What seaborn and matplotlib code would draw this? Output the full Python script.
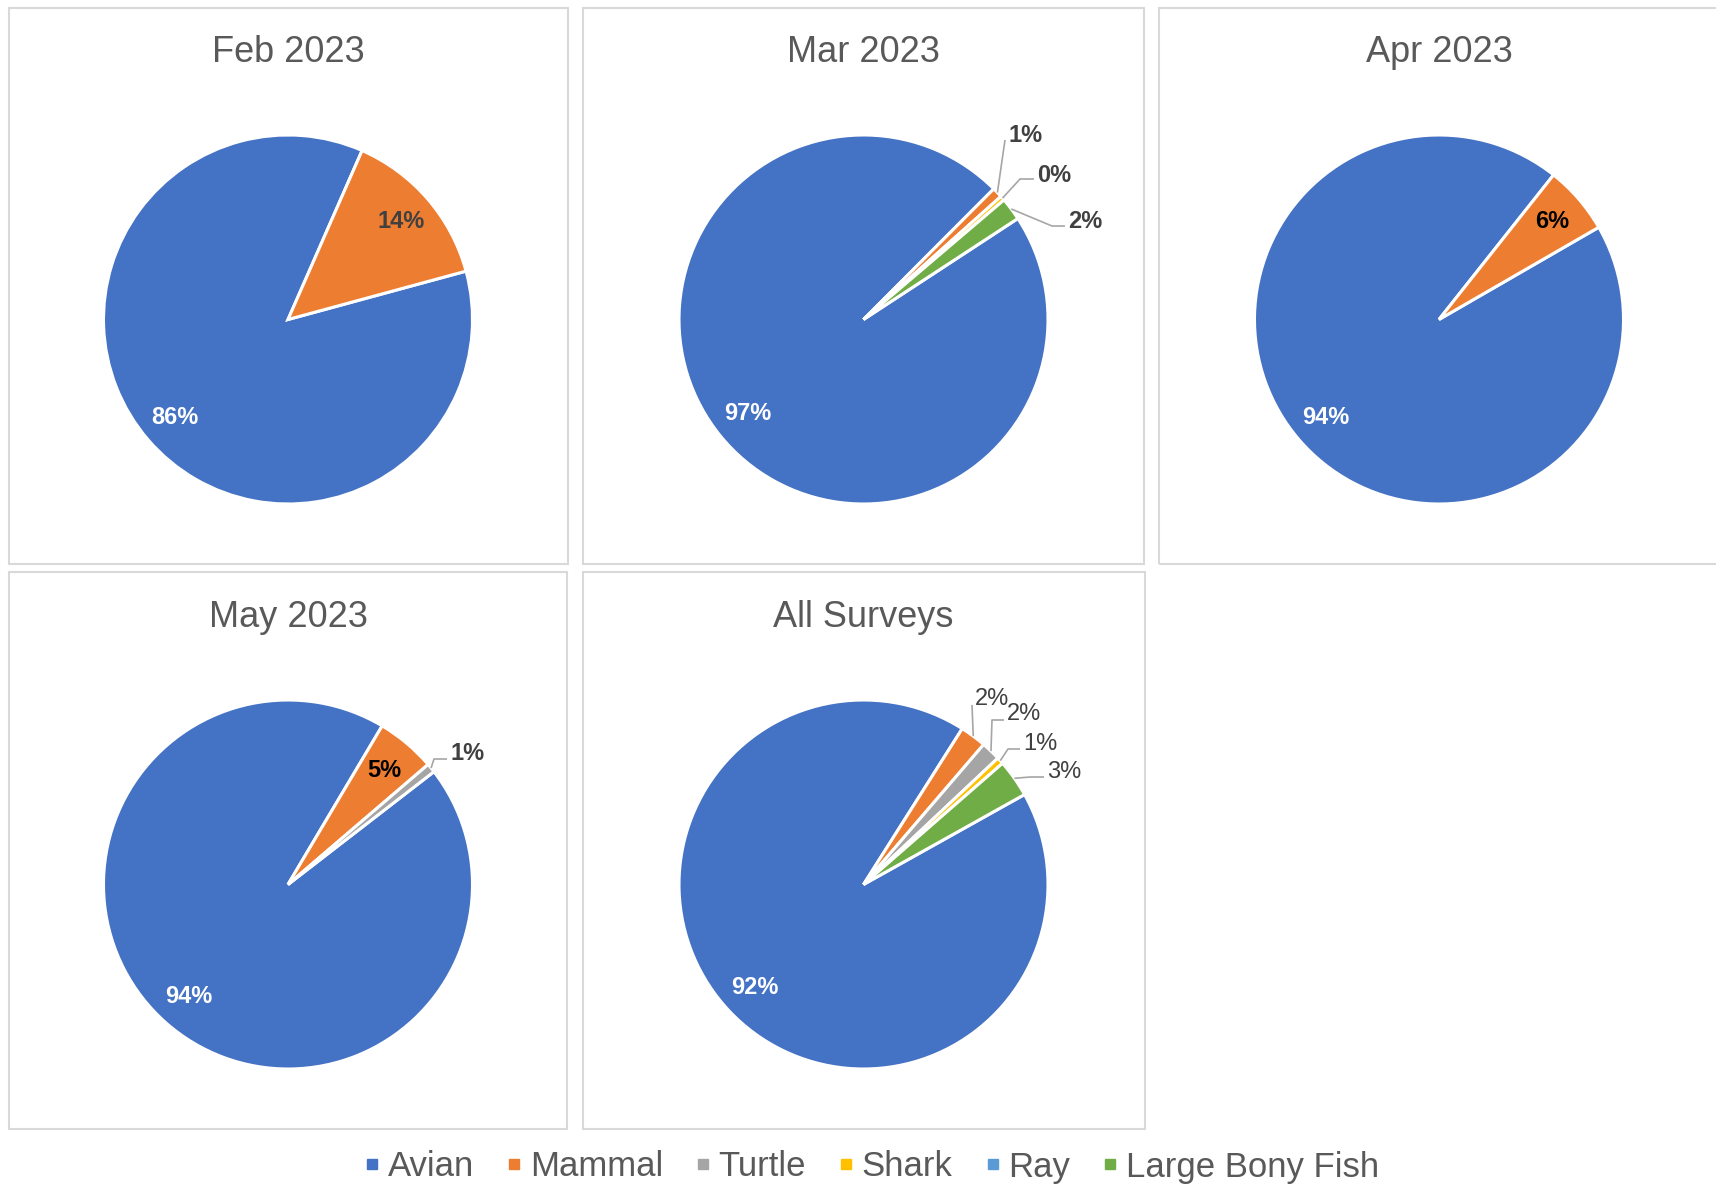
import numpy as np
import matplotlib
matplotlib.use("Agg")
import matplotlib.pyplot as plt
from matplotlib.patches import Rectangle
from matplotlib.lines import Line2D
import seaborn as sns

# categories and their Office-style colours
categories = ["Avian", "Mammal", "Turtle", "Shark", "Ray", "Large Bony Fish"]
colors = ["#4472C4", "#ED7D31", "#A5A5A5", "#FFC000", "#5B9BD5", "#70AD47"]

titles = ["Feb 2023", "Mar 2023", "Apr 2023", "May 2023", "All Surveys"]

# share of sightings (%), same order as categories
feb = [85.8, 14.2, 0, 0, 0, 0]
mar = [96.7, 0.9, 0, 0.4, 0, 2.0]
apr = [94.0, 6.0, 0, 0, 0, 0]
may = [94.0, 5.2, 0.8, 0, 0, 0]
all_surveys = [92.1, 2.3, 1.7, 0.6, 0, 3.3]
series = [feb, mar, apr, may, all_surveys]

# ---- layout (pixels, origin top-left) ----
W, H = 1716, 1186
R = 184.5
panels = [(9, 8, 568, 564), (583, 8, 1144, 564), (1159, 8, 1730, 564),
          (9, 572, 567, 1129), (583, 572, 1145, 1129)]
centers = [(288, 319.5), (863.5, 319.5), (1439, 319.5), (288, 884.5), (863.5, 884.5)]
title_base = [62, 62, 62, 627, 627]
start_cw = [74.8, 56.8, 60.0, 52.3, 60.8]   # where Avian starts, degrees clockwise from top

# slices labelled inside: {category index: colour}
inside = [{0: "white", 1: "#404040"}, {0: "white"}, {0: "white", 1: "black"},
          {0: "white", 1: "black"}, {0: "white"}]
# slices labelled outside: (category index, text left x, baseline y, elbow x, elbow y, end x)
outside = [
    [],
    [(1, 1008, 142, 1005, 140, 1005), (3, 1037, 182, 1020, 179, 1034),
     (5, 1068, 228, 1052, 226, 1065)],
    [],
    [(2, 450, 760, 434, 759, 447)],
    [(1, 975, 705, 972, 705, 972), (2, 1007, 720, 992, 720, 1004),
     (3, 1023, 750, 1008, 749, 1020), (5, 1047, 778, 1030, 777, 1044)],
]
outside_weight = ["bold", "bold", "bold", "bold", "normal"]

sns.set_theme(style="white")
plt.rcParams["font.family"] = ["Liberation Sans", "DejaVu Sans"]
palette = sns.color_palette(colors)

fig = plt.figure(figsize=(W / 100, H / 100), dpi=100)
ax = fig.add_axes([0, 0, 1, 1])

for k, vals in enumerate(series):
    l, t, r, b = panels[k]
    ax.add_patch(Rectangle((l, H - b), r - l, b - t, fill=False,
                           edgecolor="#D9D9D9", linewidth=1.5))
    cx, cy = centers[k]
    ax.text(cx, H - title_base[k], titles[k], ha="center", va="baseline",
            fontsize=26, color="#595959")

    idx = [i for i, v in enumerate(vals) if v > 0]
    wedges, _ = ax.pie([vals[i] for i in idx], colors=[palette[i] for i in idx],
                       center=(cx, H - cy), radius=R, startangle=90 - start_cw[k],
                       counterclock=False,
                       wedgeprops=dict(edgecolor="white", linewidth=2.2))
    mids = {}
    for i, w in zip(idx, wedges):
        mids[i] = np.deg2rad((w.theta1 + w.theta2) / 2)

    for i, col in inside[k].items():
        a = mids[i]
        ax.text(cx + 0.81 * R * np.cos(a), H - cy + 0.81 * R * np.sin(a),
                f"{round(vals[i]):.0f}%", ha="center", va="center",
                fontsize=17, fontweight="bold", color=col)

    for i, tx, ty, ex, ey, endx in outside[k]:
        a = mids[i]
        px, py = cx + R * np.cos(a), H - cy + R * np.sin(a)
        ax.plot([px, ex, endx], [py, H - ey, H - ey], color="#A6A6A6",
                linewidth=1.2, solid_capstyle="butt")
        ax.text(tx, H - ty, f"{round(vals[i]):.0f}%", ha="left", va="baseline",
                fontsize=17, fontweight=outside_weight[k], color="#404040")

ax.set_xlim(0, W)
ax.set_ylim(0, H)
ax.set_aspect("auto")
ax.axis("off")

handles = [Line2D([], [], marker="s", linestyle="none", color=palette[i],
                  markersize=6.5) for i in range(len(categories))]
fig.legend(handles, categories, loc="center", bbox_to_anchor=(873 / W, 1 - 1167 / H),
           ncol=6, frameon=False, fontsize=25, handlelength=0.3,
           handletextpad=0.3, columnspacing=1.0, labelcolor="#595959",
           borderpad=0)

fig.savefig("out.png", dpi=100)
